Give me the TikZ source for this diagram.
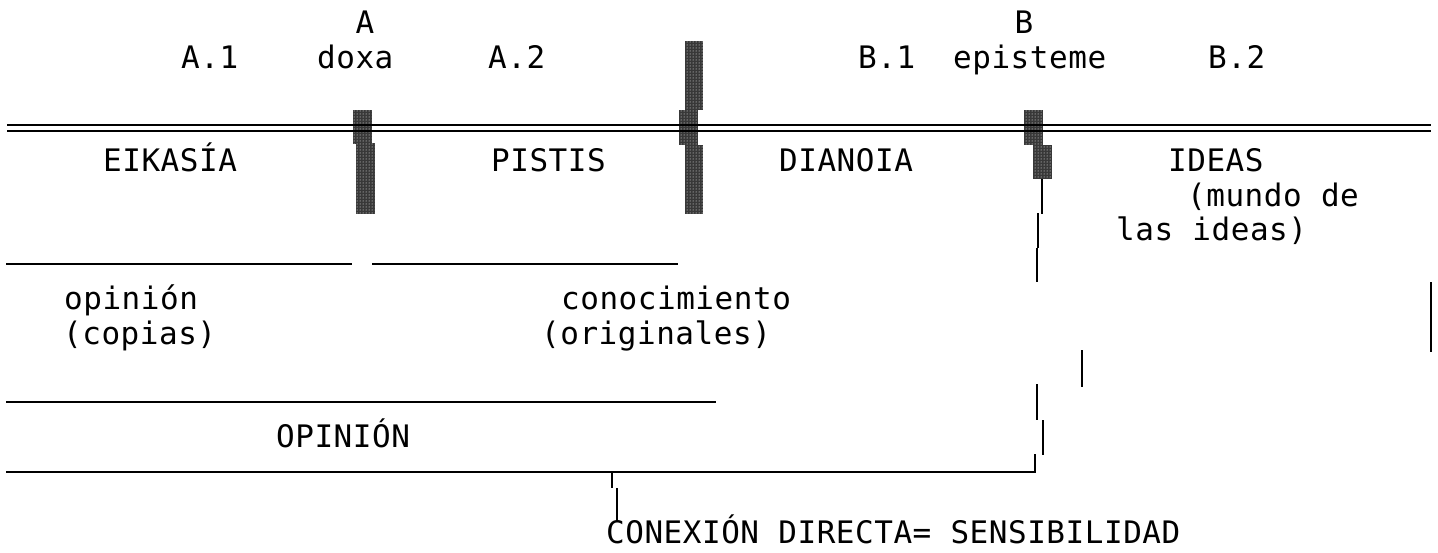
\documentclass[tikz,border=0pt]{standalone}
\usepackage{fontspec}
\newfontfamily\monofont[LetterSpace=1.7]{DejaVu Sans Mono}
\usetikzlibrary{patterns}
\begin{document}
\begin{tikzpicture}[x=1pt,y=-1pt,
  txt/.style={font=\monofont\fontsize{31}{34}\selectfont, inner sep=0pt, anchor=base west},
  ctr/.style={font=\monofont\fontsize{31}{34}\selectfont, inner sep=0pt, anchor=base},
  ln/.style={line width=2pt, black},
  blk/.style={fill=black!78}]
\useasboundingbox[fill=white] (0,0) rectangle (1438,552);

% shaded blocks
\newcommand\shadeblock[4]{%
  \fill[blk] (#1,#2) rectangle (#3,#4);
  \fill[pattern=dots, pattern color=white] (#1,#2) rectangle (#3,#4);}
\shadeblock{353}{110}{372}{144}
\shadeblock{356}{143}{375}{214}
\shadeblock{685}{41}{703}{110}
\shadeblock{679}{110}{698}{145}
\shadeblock{685}{145}{703}{214}
\shadeblock{1024}{110}{1043}{145}
\shadeblock{1033}{145}{1052}{179}

% double line
\coordinate (dl1) at (7,125);  \coordinate (dl2) at (1431,125);
\coordinate (dl3) at (7,130.5);  \coordinate (dl4) at (1431,130.5);
\draw[ln] (dl1) -- (dl2);
\draw[ln] (dl3) -- (dl4);

% horizontal rules
\coordinate (h1a) at (6,264);   \coordinate (h1b) at (352,264);
\coordinate (h2a) at (372,264); \coordinate (h2b) at (678,264);
\coordinate (h3a) at (6,402);   \coordinate (h3b) at (716,402);
\coordinate (h4a) at (6,472);   \coordinate (h4b) at (1035,472);
\coordinate (h4c) at (1035,454);
\draw[ln] (h1a) -- (h1b);
\draw[ln] (h2a) -- (h2b);
\draw[ln] (h3a) -- (h3b);
\draw[ln] (h4a) -- (h4b) -- (h4c);

% vertical pieces
\draw[ln] (1042,179) -- (1042,214);
\draw[ln] (1038,213) -- (1038,248);
\draw[ln] (1037,248) -- (1037,282);
\draw[ln] (1431,282) -- (1431,352);
\draw[ln] (1082,350) -- (1082,387);
\draw[ln] (1037,384) -- (1037,420);
\draw[ln] (1043,420) -- (1043,455);
\draw[ln] (612,472) -- (612,488);
\draw[ln] (617,488) -- (617,522);

% texts
\node[ctr] (A) at (365,33.8) {A};
\node[ctr] (B) at (1024,33.8) {B};
\node[txt] (a1) at (181,68.3) {A.1};
\node[txt] (doxa) at (317,68.3) {doxa};
\node[txt] (a2) at (488,68.3) {A.2};
\node[txt] (b1) at (858,68.3) {B.1};
\node[txt] (epi) at (953,68.3) {episteme};
\node[txt] (b2) at (1208,68.3) {B.2};

\node[txt] (eik) at (103,171.8) {EIKASÍA};
\node[txt] (pis) at (491,171.8) {PISTIS};
\node[txt] (dia) at (779,171.8) {DIANOIA};
\node[txt] (ide) at (1168,171.8) {IDEAS};
\node[txt] (mun) at (1187,206.3) {(mundo de};
\node[txt] (las) at (1116,240.8) {las ideas)};

\node[txt] (opi) at (64,309.8) {opinión};
\node[txt] (cop) at (63,344.3) {(copias)};
\node[txt] (con) at (561,309.8) {conocimiento};
\node[txt] (ori) at (541,344.3) {(originales)};

\node[txt] (OPI) at (276,447.8) {OPINIÓN};
\node[txt, text depth=0pt] (cx) at (606,543) {CONEXIÓN DIRECTA= SENSIBILIDAD};
\end{tikzpicture}
\end{document}
